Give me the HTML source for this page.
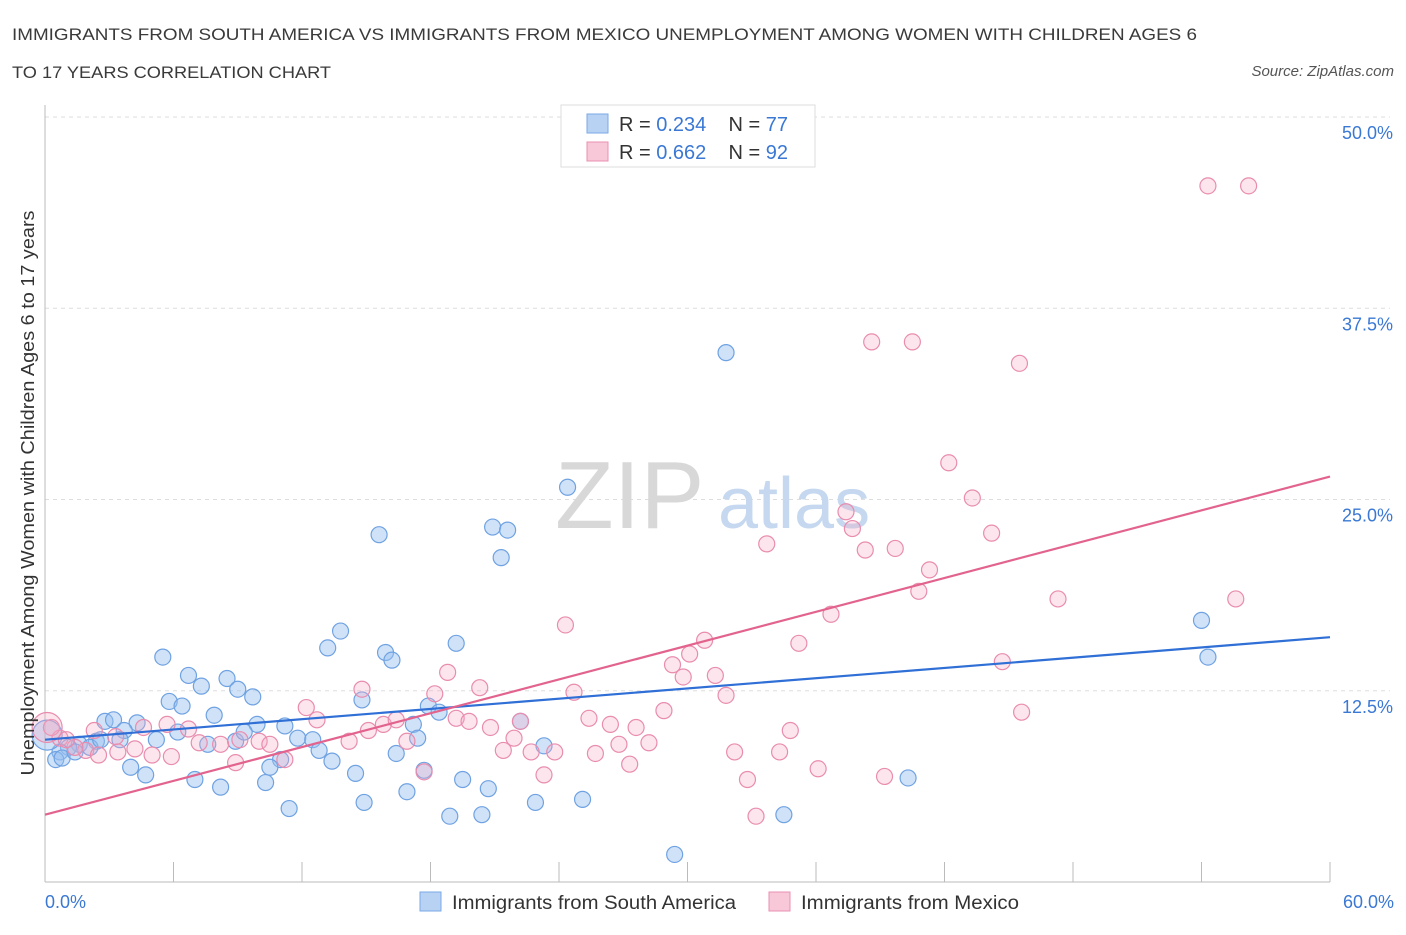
<!DOCTYPE html>
<html><head><meta charset="utf-8">
<style>
body{margin:0;background:#fff;font-family:"Liberation Sans",sans-serif;}
svg text{font-family:"Liberation Sans",sans-serif;}
</style></head>
<body>
<svg id="chart" width="1406" height="930" xmlns="http://www.w3.org/2000/svg">
<text x="12" y="40" font-size="17" fill="#3a3a3a" textLength="1185" lengthAdjust="spacingAndGlyphs">IMMIGRANTS FROM SOUTH AMERICA VS IMMIGRANTS FROM MEXICO UNEMPLOYMENT AMONG WOMEN WITH CHILDREN AGES 6</text>
<text x="12" y="78" font-size="17" fill="#3a3a3a" textLength="319" lengthAdjust="spacingAndGlyphs">TO 17 YEARS CORRELATION CHART</text>
<text x="1394" y="76" font-size="15" fill="#555" text-anchor="end" font-style="italic">Source: ZipAtlas.com</text>
<g id="grid"></g>
<text x="555" y="528" font-size="96" fill="#d8d8d8" font-family="Liberation Serif">ZIP</text>
<text x="718" y="528" font-size="72" fill="#c5d8f0">atlas</text>
<g id="points"></g>
<g id="trends"></g>
<text transform="translate(34,493) rotate(-90)" font-size="18" fill="#333" text-anchor="middle" textLength="565" lengthAdjust="spacingAndGlyphs">Unemployment Among Women with Children Ages 6 to 17 years</text>
<g>
<rect x="561" y="105" width="254" height="62" fill="#fff" stroke="#ddd"/>
<rect x="587" y="114" width="21" height="19" fill="#b8d2f4" stroke="#7aaae6"/>
<rect x="587" y="142" width="21" height="19" fill="#f8c8d8" stroke="#e890b0"/>
<text x="619" y="131" font-size="20" fill="#333">R = <tspan fill="#3a78d4">0.234</tspan>&#160;&#160;&#160; N = <tspan fill="#3a78d4">77</tspan></text>
<text x="619" y="159" font-size="20" fill="#333">R = <tspan fill="#3a78d4">0.662</tspan>&#160;&#160;&#160; N = <tspan fill="#3a78d4">92</tspan></text>
</g>
<g>
<rect x="420" y="892" width="21" height="19" fill="#b8d2f4" stroke="#7aaae6"/>
<text x="452" y="909" font-size="19" fill="#333" textLength="284" lengthAdjust="spacingAndGlyphs">Immigrants from South America</text>
<rect x="769" y="892" width="21" height="19" fill="#f8c8d8" stroke="#e890b0"/>
<text x="801" y="909" font-size="19" fill="#333" textLength="218" lengthAdjust="spacingAndGlyphs">Immigrants from Mexico</text>
</g>
</svg>
<script>
const xTicks=[0,6,12,18,24,30,36,42,48,54,60];
const yTicks=[12.5,25,37.5,50];
const yTickLabels=["12.5%","25.0%","37.5%","50.0%"];
const xEndLabels=["0.0%","60.0%"];
const blueX=[31.8,24.4,15.6,20.9,21.6,21.3,13.8,13.2,15.9,16.2,19.2,5.5,6.7,7.3,8.5,9.0,9.7,5.8,6.4,7.9,9.9,11.2,14.8,17.9,18.4,17.2,17.4,22.2,23.3,2.8,3.2,4.3,3.7,2.4,1.6,1.1,0.7,0.5,0.8,1.4,3.5,5.2,6.2,7.6,8.9,9.3,11.0,11.8,12.5,12.8,13.4,10.5,4.0,4.7,7.0,8.2,10.3,14.5,16.4,17.7,19.5,20.7,16.9,14.9,11.4,18.9,20.4,22.9,25.1,29.4,34.5,40.3,54.0,54.3,0.1,2.1,2.6];
const blueY=[34.6,25.8,22.7,23.2,23.0,21.2,16.4,15.3,15.0,14.5,15.6,14.7,13.5,12.8,13.3,12.6,12.1,11.8,11.5,10.9,10.3,10.2,11.9,11.5,11.1,10.3,9.4,10.5,8.9,10.5,10.6,10.4,9.9,9.2,9.0,8.8,8.5,8.0,8.1,8.5,9.3,9.3,9.8,9.0,9.2,9.8,8.0,9.4,9.3,8.6,7.9,7.5,7.5,7.0,6.7,6.2,6.5,7.1,8.4,7.3,6.7,6.1,5.9,5.2,4.8,4.3,4.4,5.2,5.4,1.8,4.4,6.8,17.1,14.7,9.6,8.8,9.3];
const pinkX=[54.3,56.2,38.6,40.5,45.5,42.2,43.3,37.4,37.7,44.2,33.7,38.3,39.7,41.3,40.8,47.3,55.6,36.7,24.3,30.8,35.2,30.1,29.3,29.8,31.3,31.8,44.7,45.6,18.8,14.8,20.3,18.2,24.7,12.2,12.7,28.9,25.4,26.4,27.6,19.2,19.8,20.8,22.2,15.1,15.8,16.4,6.7,5.7,4.6,3.3,2.3,0.7,0.3,7.2,8.2,9.1,10.0,10.5,14.2,16.9,21.9,21.4,22.7,23.8,25.7,26.8,28.2,32.2,34.3,34.8,27.3,8.9,11.2,5.9,5.0,3.4,1.9,1.4,2.5,4.2,23.3,17.7,32.8,36.1,39.2,33.2,0.1,1.0];
const pinkY=[45.5,45.5,35.3,35.3,33.9,27.4,25.1,24.2,23.1,22.8,22.1,21.7,21.8,20.4,19.0,18.5,18.5,17.5,16.8,15.8,15.6,14.9,14.2,13.4,13.5,12.2,14.4,11.1,13.7,12.6,12.7,12.3,12.4,11.4,10.6,11.2,10.7,10.3,10.1,10.7,10.5,10.1,10.5,9.9,10.3,10.6,10.0,10.3,10.1,9.5,9.9,9.4,10.1,9.1,9.0,9.3,9.2,9.0,9.2,9.2,9.4,8.6,8.5,8.5,8.4,9.0,9.1,8.5,8.5,9.9,7.7,7.8,8.0,8.2,8.3,8.5,8.6,8.8,8.3,8.7,7.0,7.2,6.7,7.4,6.9,4.3,10.1,9.3];
const blueTrend=[9.3,16.0];
const pinkTrend=[4.4,26.5];

const X0=45,X1=1330,Y0=882,Y50=117;
const sx=v=>X0+(v/60)*(X1-X0);
const sy=v=>Y0-(v/50)*(Y0-Y50);
const NS="http://www.w3.org/2000/svg";
const svg=document.getElementById('chart');
const grid=document.getElementById('grid');
function mk(tag,attrs,parent){const e=document.createElementNS(NS,tag);for(const k in attrs)e.setAttribute(k,attrs[k]);parent.appendChild(e);return e;}
yTicks.forEach((t,i)=>{
  const l=mk('line',{x1:X0,x2:1390,y1:sy(t),y2:sy(t),stroke:'#ddd','stroke-dasharray':'4,4'},grid);
  
  
  const tx=mk('text',{x:1393,y:sy(t)+22,'font-size':18,fill:'#3a78d4','text-anchor':'end'},grid);
  tx.textContent=yTickLabels[i];
  
  
});
const ax=mk('line',{x1:X0,x2:X1,y1:Y0,y2:Y0,stroke:'#bbb'},grid);


const ay=mk('line',{x1:X0,x2:X0,y1:105,y2:Y0,stroke:'#bbb'},grid);


xTicks.forEach(t=>{
  const l=mk('line',{x1:sx(t),x2:sx(t),y1:862,y2:Y0,stroke:'#bbb'},grid);
  
  
});
[[0,'start',45],[60,'end',1394]].forEach((d,i)=>{
  const tx=mk('text',{x:d[2],y:908,'font-size':18,fill:'#3a78d4','text-anchor':d[1]},grid);
  tx.textContent=xEndLabels[i];
  
  
});
const pts=document.getElementById('points');
function draw(xs,ys,fill,stroke,name,bigIdx){
  xs.forEach((x,i)=>{
    const c=mk('circle',{cx:sx(x),cy:sy(ys[i]),r:i===bigIdx?15:8,fill:fill,stroke:stroke,'stroke-width':1.2},pts);
    
    
  });
}
draw(blueX,blueY,'rgba(150,190,240,0.45)','#6fa2e2','south-america-point',74);
draw(pinkX,pinkY,'rgba(245,170,195,0.3)','#e98cae','mexico-point',86);
const tr=document.getElementById('trends');
const b=mk('line',{x1:sx(0),y1:sy(blueTrend[0]),x2:sx(60),y2:sy(blueTrend[1]),stroke:'#2f6fd6','stroke-width':2.2},tr);


const p=mk('line',{x1:sx(0),y1:sy(pinkTrend[0]),x2:sx(60),y2:sy(pinkTrend[1]),stroke:'#e2648e','stroke-width':2.2},tr);


</script>
</body></html>
